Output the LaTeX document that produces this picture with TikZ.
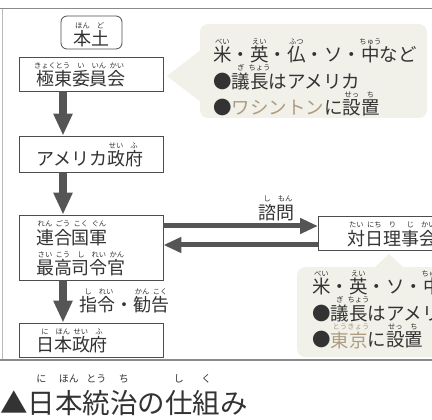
\documentclass[tikz,border=0pt]{standalone}
\usepackage{fontspec}
\setmainfont{Noto Sans CJK JP}
\usetikzlibrary{arrows.meta,calc}
\definecolor{chartink}{HTML}{333333}
\definecolor{chartline}{HTML}{4D4D4D}
\definecolor{chartarrow}{HTML}{555555}
\definecolor{chartpanel}{HTML}{F1F1EA}
\definecolor{charttan}{HTML}{AD9B80}
\definecolor{chartframe}{HTML}{8A8A8A}
\newbox\rubybox
\newcommand{\rubysize}{\fontsize{7.3}{7.3}\selectfont}
% kanji with its reading set small above it
\newcommand{\rb}[3][0.95em]{\leavevmode\setbox\rubybox\hbox{#2}%
  \rlap{\raisebox{#1}{\makebox[\wd\rubybox]{\rubysize #3}}}\box\rubybox}
\tikzset{
  govbox/.style={draw=chartline, fill=white, line width=.8pt,
    minimum width=144pt, minimum height=34pt, inner xsep=17pt, inner ysep=0pt,
    text width=110pt, align=left, text height=26pt, text depth=2pt,
    font=\fontsize{18}{31}\selectfont, text=chartink},
  homebox/.style={draw=chartline, fill=white, line width=.8pt, rounded corners=6pt,
    minimum width=61pt, minimum height=33pt, inner sep=0pt,
    text height=28pt, text depth=2pt,
    font=\fontsize{18}{18}\selectfont, text=chartink},
  notepanel/.style={fill=chartpanel, rounded corners=8pt, inner sep=0pt},
  notetext/.style={anchor=base west, inner sep=0pt, text width=215pt, align=left,
    font=\fontsize{18.5}{26.5}\selectfont, text=chartink},
  placetext/.style={anchor=base west, inner sep=0pt,
    font=\fontsize{18.45}{18.45}\selectfont, text=charttan},
  flowlabel/.style={anchor=base west, inner sep=0pt,
    font=\fontsize{18}{18}\selectfont, text=chartink},
  vflow/.style={-{Triangle[length=22pt,width=18pt]}, draw=chartarrow, line width=8pt},
  hflow/.style={-{Triangle[length=18pt,width=15pt]}, draw=chartarrow, line width=5pt}
}
\begin{document}
\begin{tikzpicture}[x=1pt,y=-1pt]
  \useasboundingbox (0,0) rectangle (432,420);
  \clip (0,0) rectangle (432,420);
  \fill[white] (0,0) rectangle (432,420);
  % frame of the chart
  \draw[chartframe, line width=1pt] (0,9) -- (432,9);
  \draw[chartframe!60, line width=.8pt] (2,9) -- (2,360);
  \draw[chartframe, line width=1.2pt] (0,360) -- (432,360);

  % shaded notes
  \node[notepanel, minimum width=227pt, minimum height=94pt] (fecnote) at (313.5,71) {};
  \node[notepanel, minimum width=150pt, minimum height=90pt, anchor=north west]
    (acjnote) at (297,267) {};
  \fill[chartpanel] ($(fecnote.west)+(1,-21)$) -- (167,76) -- ($(fecnote.west)+(1,31)$) -- cycle;
  \fill[chartpanel] ($(acjnote.north west)+(77,1)$) -- (389,254)
    -- ($(acjnote.north west)+(107,1)$) -- cycle;

  % place names in tan
  \node[placetext] (fecplace) at (231.5,115) {ワシントン};
  \node[placetext] (acjplace) at (330.5,347) {\rb{東}{とう}\rb{京}{きょう}};

  % boxes
  \node[homebox] (hondo) at (91.5,32.5) {\rb{本}{ほん}\rb{土}{ど}};
  \node[govbox] (kyokuto) at (91,74)
    {\rb{極}{きょく}\rb{東}{とう}\rb{委}{い}\rb{員}{いん}\rb{会}{かい}};
  \node[govbox, minimum height=36pt] (beigov) at (91,154) {アメリカ\rb{政}{せい}\rb{府}{ふ}};
  \node[govbox, minimum height=65pt, text height=27pt, text depth=34pt] (ghq) at (91,247.5)
    {\rb{連}{れん}\rb{合}{ごう}\rb{国}{こく}\rb{軍}{ぐん}\\
     \rb{最}{さい}\rb{高}{こう}\rb{司}{し}\rb{令}{れい}\rb{官}{かん}};
  \node[govbox] (nihongov) at (91,340) {\rb{日}{に}\rb{本}{ほん}\rb{政}{せい}\rb{府}{ふ}};
  \node[govbox, text width=100pt, inner xsep=29pt, anchor=west] (taiinichi) at (318,233)
    {\rb{対}{たい}\rb{日}{にち}\rb{理}{り}\rb{事}{じ}\rb{会}{かい}};

  % arrows
  \coordinate (stem) at (63,0);
  \coordinate (askrow) at (0,226);
  \coordinate (replyrow) at (0,245);
  \draw[vflow] (kyokuto.south -| stem) -- (beigov.north -| stem);
  \draw[vflow] (beigov.south -| stem) -- (ghq.north -| stem);
  \draw[vflow] (ghq.south -| stem) -- (nihongov.north -| stem);
  \draw[hflow] (ghq.east |- askrow) -- (taiinichi.west |- askrow);
  \draw[hflow] (taiinichi.west |- replyrow) -- (ghq.east |- replyrow);
  \node[flowlabel] (consult) at (258,219) {\rb{諮}{し}\rb{問}{もん}};
  \node[flowlabel] (order) at (79,312) {\rb{指}{し}\rb{令}{れい}・\rb{勧}{かん}\rb{告}{こく}};

  % note texts, with a gap left for each tan place name
  \node[notetext] (fectext) at (213,62)
    {\rb{米}{べい}・\rb{英}{えい}・\rb{仏}{ふつ}・ソ・\rb{中}{ちゅう}など\\
     ●\rb{議}{ぎ}\rb{長}{ちょう}はアメリカ\\
     ●\hphantom{ワシントン}に\rb{設}{せっ}\rb{置}{ち}};
  \node[notetext] (acjtext) at (312,294)
    {\rb{米}{べい}・\rb{英}{えい}・ソ・\rb{中}{ちゅう}\\
     ●\rb{議}{ぎ}\rb{長}{ちょう}はアメリカ\\
     ●\hphantom{東京}に\rb{設}{せっ}\rb{置}{ち}};

  % caption
  \node[anchor=base west, inner sep=0pt, font=\fontsize{27.5}{27.5}\selectfont,
    text=chartink] (caption) at (0,413)
    {\renewcommand{\rubysize}{\fontsize{10}{10}\selectfont}%
     ▲\rb[1.1em]{日}{に}\rb[1.1em]{本}{ほん}\rb[1.1em]{統}{とう}\rb[1.1em]{治}{ち}の%
     \rb[1.1em]{仕}{し}\rb[1.1em]{組}{く}み};
\end{tikzpicture}
\end{document}
